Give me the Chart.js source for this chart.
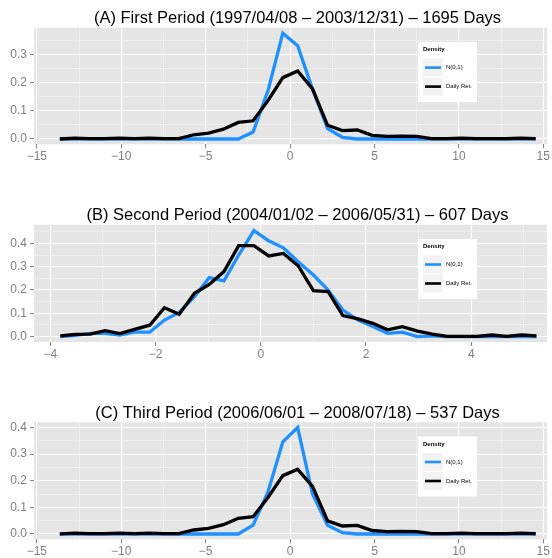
<!DOCTYPE html>
<html>
<head>
<meta charset="utf-8">
<script src="https://cdn.jsdelivr.net/npm/chart.js@4.4.0/dist/chart.umd.min.js"></script>
<style>
  body { margin: 0; background: #fff; }
  #wrap { position: relative; width: 552px; height: 558px; }
  #wrap canvas { position: absolute; left: 0; }
</style>
</head>
<body>
<div id="wrap">
  <canvas id="chartA" width="552" height="196" style="top:0px"></canvas>
  <canvas id="chartB" width="552" height="198" style="top:196px"></canvas>
  <canvas id="chartC" width="552" height="164" style="top:394px"></canvas>
</div>
<script>
// evaluation points of the density estimates
const gridWide = [-13.64, -12.76, -11.88, -11.00, -10.12, -9.23, -8.35, -7.47, -6.59, -5.71, -4.83,
  -3.95, -3.07, -2.19, -1.31, -0.43, 0.45, 1.33, 2.22, 3.10, 3.98, 4.86, 5.74, 6.62, 7.50, 8.38,
  9.26, 10.14, 11.03, 11.91, 12.79, 13.67, 14.55];
const gridNarrow = [-3.81, -3.53, -3.24, -2.96, -2.68, -2.40, -2.11, -1.83, -1.55, -1.26, -0.98,
  -0.70, -0.42, -0.13, 0.15, 0.43, 0.71, 1.00, 1.28, 1.56, 1.85, 2.13, 2.41, 2.69, 2.98, 3.26,
  3.54, 3.83, 4.11, 4.39, 4.67, 4.96, 5.24];

// (A) first period
const normalFirst = [0, 0, 0, 0, 0, 0, 0, 0, 0, 0, 0, 0, 0, 0.025, 0.172, 0.378, 0.333, 0.178,
  0.037, 0.006, 0, 0, 0, 0, 0, 0, 0, 0, 0, 0, 0, 0, 0];
const returnsFirst = [0, 0.003, 0.001, 0.001, 0.003, 0.001, 0.003, 0.001, 0.001, 0.015, 0.021,
  0.035, 0.059, 0.065, 0.137, 0.219, 0.243, 0.179, 0.049, 0.030, 0.032, 0.013, 0.009, 0.010,
  0.009, 0.001, 0.001, 0.003, 0.001, 0.001, 0.001, 0.003, 0.001];

// (B) second period
const normalSecond = [0, 0.005, 0.014, 0.014, 0.007, 0.019, 0.019, 0.071, 0.104, 0.171, 0.253,
  0.239, 0.350, 0.455, 0.411, 0.381, 0.321, 0.264, 0.200, 0.114, 0.071, 0.043, 0.014, 0.019, 0,
  0.003, 0, 0, 0, 0, 0, 0, 0];
const returnsSecond = [0.003, 0.010, 0.011, 0.026, 0.013, 0.031, 0.049, 0.124, 0.096, 0.186,
  0.224, 0.279, 0.390, 0.390, 0.346, 0.357, 0.304, 0.197, 0.193, 0.090, 0.076, 0.057, 0.029,
  0.043, 0.024, 0.011, 0.001, 0.001, 0.001, 0.007, 0.001, 0.007, 0.003];

// (C) third period
const normalThird = [0, 0, 0, 0, 0, 0, 0, 0, 0, 0, 0, 0, 0, 0.033, 0.158, 0.346, 0.400, 0.150,
  0.033, 0.005, 0, 0, 0, 0, 0, 0, 0, 0, 0, 0, 0, 0, 0];
const returnsThird = [0, 0.003, 0.001, 0.001, 0.003, 0.001, 0.003, 0.001, 0.001, 0.015, 0.021,
  0.035, 0.059, 0.065, 0.137, 0.219, 0.243, 0.179, 0.049, 0.030, 0.032, 0.013, 0.009, 0.010,
  0.009, 0.001, 0.001, 0.003, 0.001, 0.001, 0.001, 0.003, 0.001];

const titles = [
  '(A) First Period (1997/04/08 \u2013 2003/12/31) \u2013 1695 Days',
  '(B) Second Period (2004/01/02 \u2013 2006/05/31) \u2013 607 Days',
  '(C) Third Period (2006/06/01 \u2013 2008/07/18) \u2013 537 Days'
];
const seriesLabels = ['N(0,1)', 'Daily Ret.'];
const legendTitle = 'Density';
const wideTicks = [-15, -10, -5, 0, 5, 10, 15];
const narrowTicks = [-4, -2, 0, 2, 4];
const densityTicks = [0, 0.1, 0.2, 0.3, 0.4];

const FONT = '"Liberation Sans", Arial, Helvetica, sans-serif';
const GREY = '#7f7f7f';

// majors plus the minor lines halfway between (and one step past each end)
function withMinor(majors) {
  const step = majors[1] - majors[0];
  const out = [];
  for (let i = 0; i < majors.length; i++) {
    out.push(majors[i]);
    out.push(majors[i] + step / 2);
  }
  out.unshift(majors[0] - step / 2);
  return out;
}

const isMajor = (v, majors) => majors.some(m => Math.abs(m - v) < 1e-9);

// grey panel, title and the boxed legend
const panelDecor = {
  id: 'panelDecor',
  beforeDraw(chart) {
    const { ctx, chartArea: a } = chart;
    ctx.save();
    ctx.fillStyle = '#e5e5e5';
    ctx.fillRect(a.left, a.top, a.right - a.left, a.bottom - a.top);
    ctx.restore();
  },
  afterDraw(chart, args, opts) {
    const { ctx, chartArea: a } = chart;
    ctx.save();
    ctx.fillStyle = '#000';
    ctx.font = '16.5px ' + FONT;
    ctx.textAlign = 'center';
    ctx.textBaseline = 'middle';
    ctx.fillText(opts.title, 297.5, a.top - 9.2);

    // legend box
    const lx = 418, ly = a.top + 14.3;
    ctx.fillStyle = '#ffffff';
    ctx.fillRect(lx, ly, 59, 60);
    ctx.fillStyle = '#000';
    ctx.textAlign = 'left';
    ctx.font = 'bold 6px ' + FONT;
    ctx.fillText(legendTitle, lx + 5, ly + 7.5);

    // keys in legend order: N(0,1) first, then Daily Ret.
    chart.data.datasets.forEach((ds, i) => {
      const ky = ly + 16.5 + i * 19;
      ctx.fillStyle = '#f2f2f2';
      ctx.fillRect(lx + 5, ky, 19.5, 18);
      ctx.strokeStyle = ds.borderColor;
      ctx.lineWidth = 2.6;
      ctx.beginPath();
      ctx.moveTo(lx + 7, ky + 9);
      ctx.lineTo(lx + 23, ky + 9);
      ctx.stroke();
      ctx.fillStyle = '#000';
      ctx.font = '6px ' + FONT;
      ctx.fillText(ds.label, lx + 28, ky + 9);
    });
    ctx.restore();
  }
};

function axis(majors, min, max, size, isX, fmt) {
  const all = withMinor(majors);
  const cfg = {
    type: 'linear',
    min: min,
    max: max,
    afterBuildTicks: s => { s.ticks = all.filter(v => v >= min && v <= max).map(v => ({ value: v })); },
    border: { display: false },
    grid: {
      color: c => isMajor(c.tick.value, majors) ? '#ffffff' : '#f3f3f3',
      lineWidth: c => isMajor(c.tick.value, majors) ? 1.1 : 0.6,
      tickColor: c => isMajor(c.tick.value, majors) ? GREY : 'rgba(0,0,0,0)',
      tickLength: 4,
      tickWidth: 1
    },
    ticks: {
      autoSkip: false,
      maxRotation: 0,
      padding: isX ? 1 : 3,
      color: GREY,
      font: { family: FONT, size: 12 },
      callback: v => isMajor(v, majors) ? fmt(v) : ''
    }
  };
  if (isX) cfg.afterFit = s => { s.height = size; };
  else cfg.afterFit = s => { s.width = size; };
  return cfg;
}

const fmtX = v => String(Math.round(v)).replace('-', '\u2212');
const fmtY = v => v.toFixed(1);

function buildPanel(id, p) {
  return new Chart(document.getElementById(id), {
    type: 'line',
    data: {
      datasets: [
        {
          label: seriesLabels[0],
          data: p.x.map((x, i) => ({ x: x, y: p.normal[i] })),
          borderColor: '#1e90ff',
          order: 2
        },
        {
          label: seriesLabels[1],
          data: p.x.map((x, i) => ({ x: x, y: p.returns[i] })),
          borderColor: '#000000',
          order: 1
        }
      ]
    },
    options: {
      responsive: false,
      animation: false,
      events: [],
      layout: { padding: { top: p.top, right: 5, bottom: p.bottom, left: 0 } },
      elements: {
        point: { radius: 0 },
        line: { borderWidth: 3.3, tension: 0, fill: false, borderJoinStyle: 'miter' }
      },
      plugins: {
        legend: { display: false },
        tooltip: { enabled: false },
        panelDecor: { title: p.title }
      },
      scales: {
        x: axis(p.xTicks, p.xMin, p.xMax, p.xHeight, true, fmtX),
        y: axis(densityTicks, p.yMin, p.yMax, 34, false, fmtY)
      }
    },
    plugins: [panelDecor]
  });
}

buildPanel('chartA', {
  title: titles[0], x: gridWide, normal: normalFirst, returns: returnsFirst,
  xTicks: wideTicks, xMin: -15.17, xMax: 15.22, yMin: -0.019, yMax: 0.397,
  top: 27.8, bottom: 31.7, xHeight: 20
});
buildPanel('chartB', {
  title: titles[1], x: gridNarrow, normal: normalSecond, returns: returnsSecond,
  xTicks: narrowTicks, xMin: -4.31, xMax: 5.44, yMin: -0.023, yMax: 0.48,
  top: 28.7, bottom: 32, xHeight: 20
});
buildPanel('chartC', {
  title: titles[2], x: gridWide, normal: normalThird, returns: returnsThird,
  xTicks: wideTicks, xMin: -15.17, xMax: 15.22, yMin: -0.02, yMax: 0.42,
  top: 28.2, bottom: 0, xHeight: 18.7
});
</script>
</body>
</html>
